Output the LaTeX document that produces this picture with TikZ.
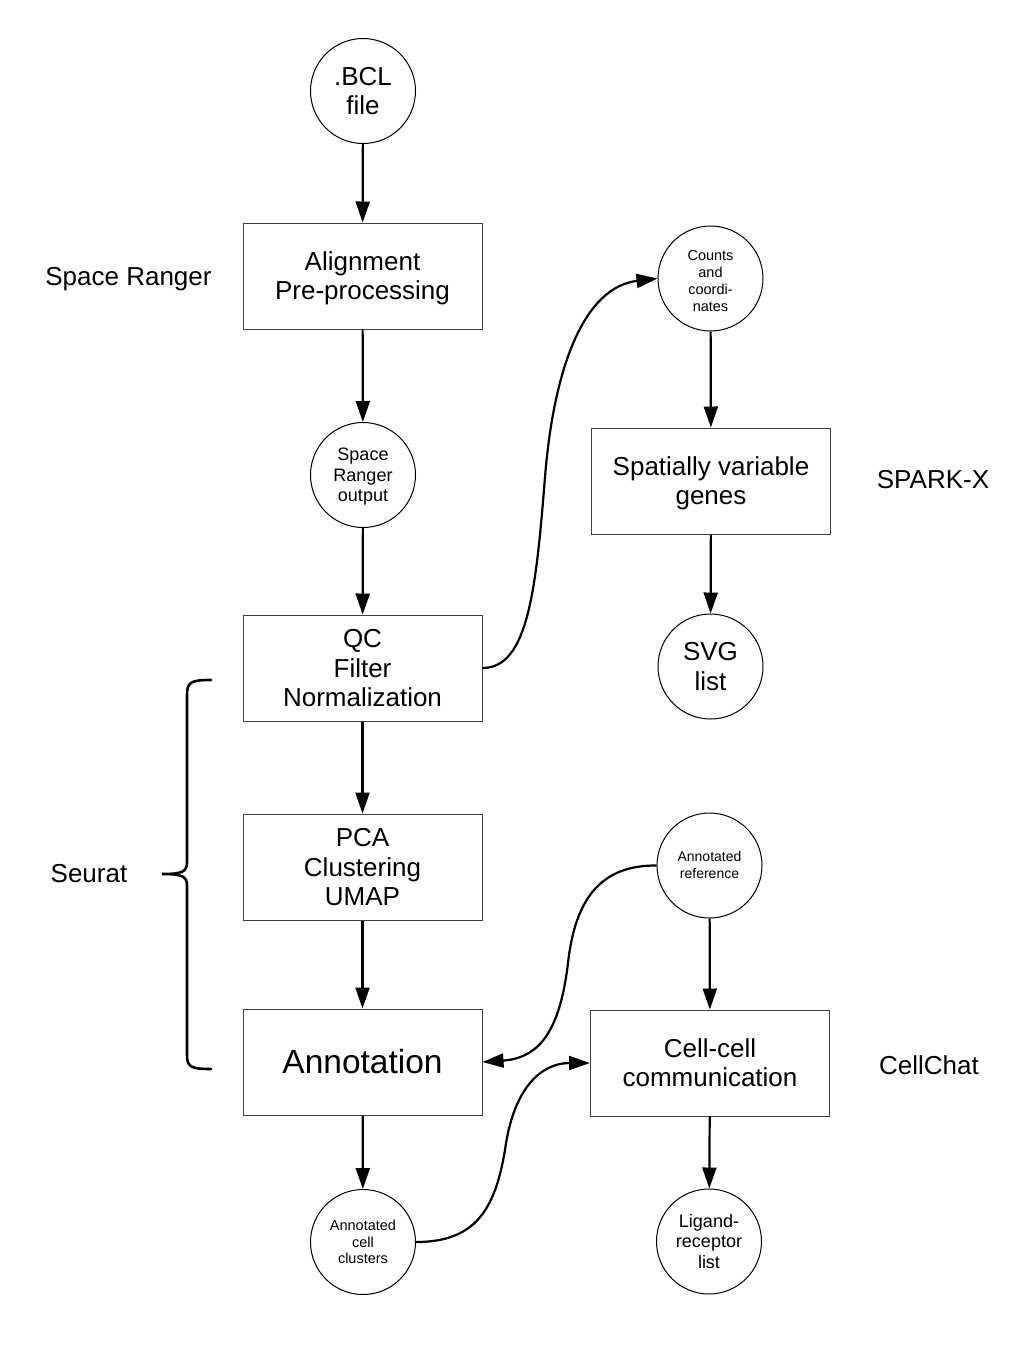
\documentclass[tikz,border=0pt]{standalone}
\usepackage{fontspec}
\setmainfont{Liberation Sans}
\usetikzlibrary{arrows.meta}
\newcommand\ls{\rule[-0.212em]{0pt}{1.117em}}
\newcommand\lsd{\rule[-0.212em]{0pt}{\dimexpr1.117em+5pt\relax}}
\begin{document}
\begin{tikzpicture}[x=1pt,y=-1pt,
  big/.style={font=\fontsize{26}{29.5}\selectfont},
  mid/.style={font=\fontsize{18}{20.5}\selectfont},
  small/.style={font=\fontsize{14.5}{16.7}\selectfont},
  tiny/.style={font=\fontsize{14}{17}\selectfont},
  box/.style={draw=black!75, line width=1pt, minimum width=239pt, minimum height=106pt, align=center, inner sep=0pt, big},
  circ/.style={draw=black, line width=1pt, circle, minimum size=105pt, align=center, inner sep=0pt},
  lab/.style={big, inner sep=0pt},
  arr/.style={line width=2.2pt, -{Triangle[length=21pt,width=14pt]}},
  brace/.style={line width=2.6pt, line cap=round}]
\useasboundingbox (0,0) rectangle (1025,1350);
\fill[white] (0,0) rectangle (1025,1350);

% left column
\node[circ, big] (bcl) at (363,91) {\ls.BCL\\\ls file};
\node[box] (align) at (362.5,276) {\ls Alignment\\\ls Pre-processing};
\node[circ, mid] (sro) at (363,475) {\ls Space\\\ls Ranger\\\ls output};
\node[box] (qc) at (362.5,668) {\ls QC\\\ls Filter\\\ls Normalization};
\node[box] (pca) at (362.5,867) {\ls PCA\\\ls Clustering\\\ls UMAP};
\node[box, font=\fontsize{33.5}{38}\selectfont] (ann) at (362.5,1062) {\ls Annotation};
\node[circ, small] (acl) at (363,1242) {\ls Annotated\\\ls cell\\\ls clusters};

% right column
\node[circ, small] (cnt) at (710.5,278.5) {\lsd Counts\\\ls and\\\ls coordi-\\\ls nates};
\node[box] (svgbox) at (711,481) {\ls Spatially variable\\\ls genes};
\node[circ, big] (svg) at (710.5,666.5) {\ls SVG\\\ls list};
\node[circ, tiny] (aref) at (709.5,865.5) {\ls Annotated\\\ls reference};
\node[box] (cc) at (710,1063) {\ls Cell-cell\\\ls communication};
\node[circ, mid] (lig) at (709,1241.5) {\ls Ligand-\\\ls receptor\\\ls list};

% side labels
\node[lab] (lsr) at (128.5,276) {\ls Space Ranger};
\node[lab] (lsp) at (933,479) {\ls SPARK-X};
\node[lab] (lse) at (89,873) {\ls Seurat};
\node[lab] (lcc) at (929,1065) {\ls CellChat};

% straight arrows
\draw[arr] (bcl) -- (align);
\draw[arr] (align) -- (sro);
\draw[arr] (sro) -- (qc);
\draw[arr] (qc) -- (pca);
\draw[arr] (pca) -- (ann);
\draw[arr] (ann) -- (acl);
\draw[arr] (cnt) -- (svgbox);
\draw[arr] (svgbox) -- (svg);
\draw[arr] (aref) -- (cc);
\draw[arr] (cc) -- (lig);

% curved arrows
\draw[arr] (qc.east) .. controls (528,668) and (536,590) .. (545,477)
  .. controls (554,365) and (585,287) .. (cnt.west);
\draw[arr] (aref.west) .. controls (600,865) and (575,900) .. (568,963)
  .. controls (560,1030) and (540,1058) .. (ann.east);
\draw[arr] (acl.east) .. controls (475,1242) and (495,1210) .. (505,1150)
  .. controls (513,1090) and (540,1063) .. (cc.west);

% brace
\draw[brace] (211,680) .. controls (191,680) and (187,682) .. (187,695)
  -- (187,862) .. controls (187,872) and (182,874) .. (162,874)
  .. controls (182,874) and (187,876) .. (187,886)
  -- (187,1055) .. controls (187,1067) and (191,1069) .. (211,1069);
\end{tikzpicture}
\end{document}
